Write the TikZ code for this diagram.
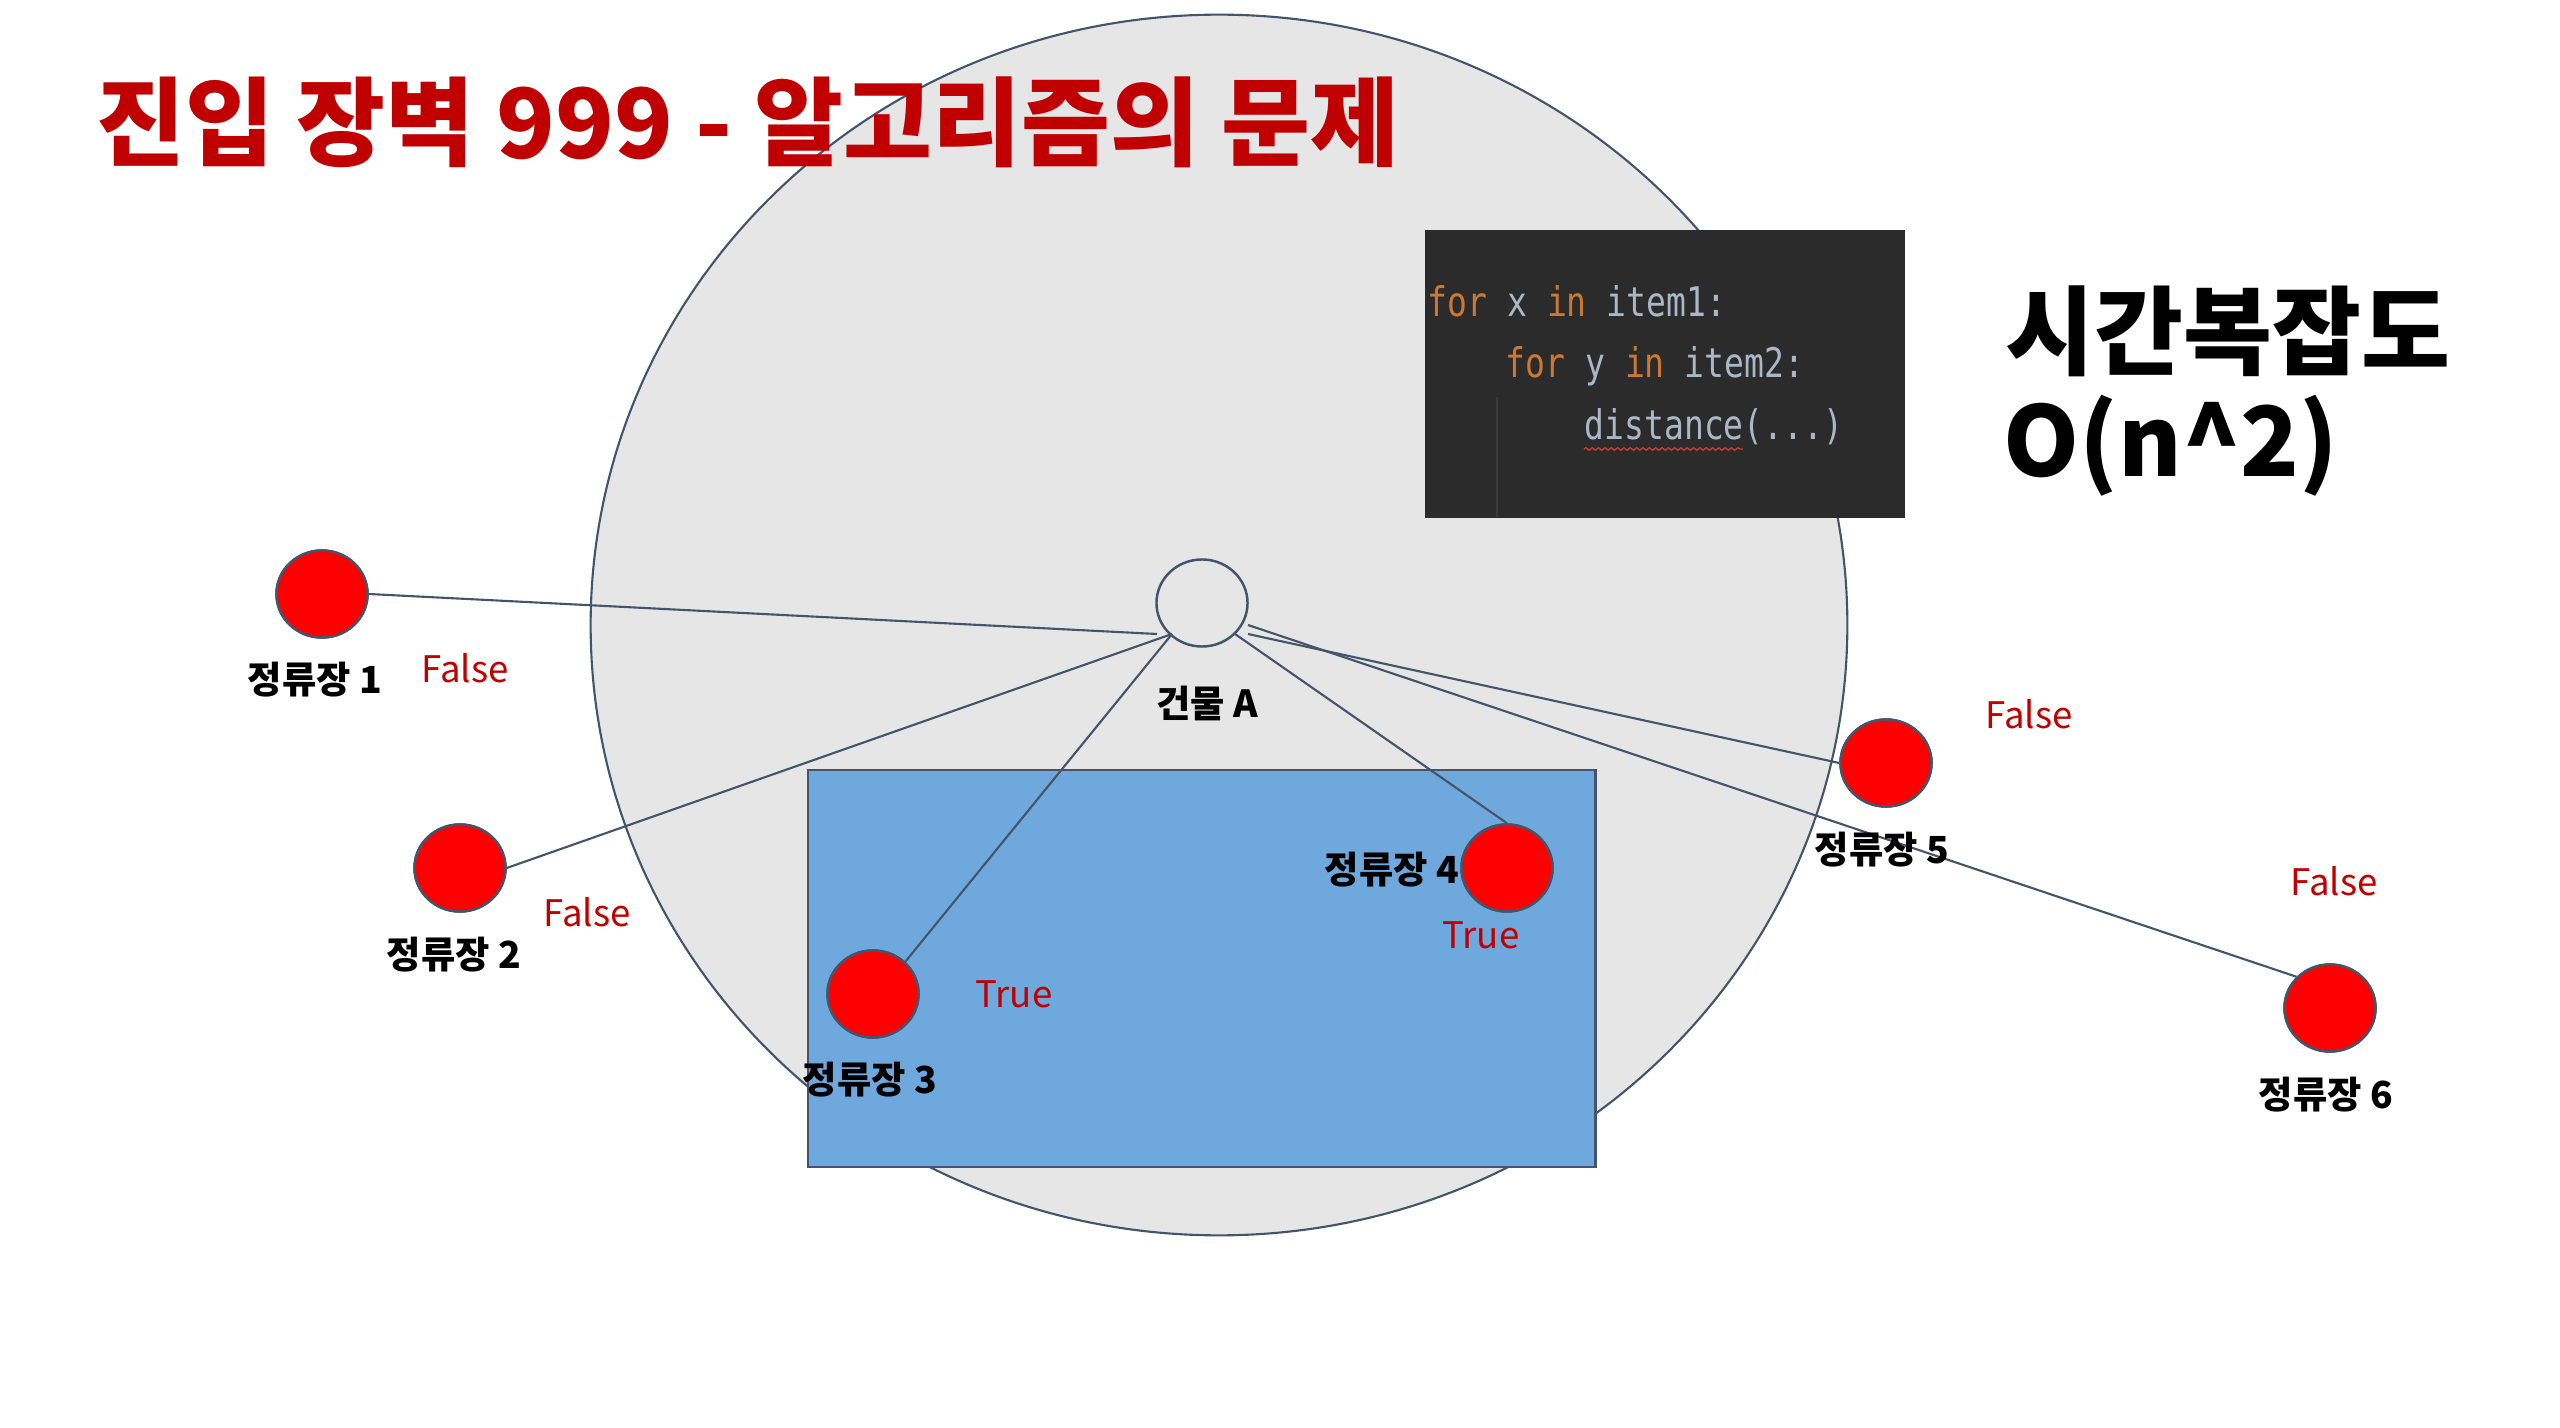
\documentclass[tikz,border=0pt]{standalone}
\usepackage{fontspec}
\setmainfont{Noto Sans CJK KR}
\newfontfamily\codefont[FakeStretch=0.81]{DejaVu Sans Mono}
\usetikzlibrary{shapes.geometric,decorations.pathmorphing}
\definecolor{edgec}{HTML}{44546A}
\definecolor{zonec}{HTML}{E6E6E6}
\definecolor{areac}{HTML}{6FA8DC}
\definecolor{stopred}{HTML}{FF0000}
\definecolor{labred}{HTML}{C00000}
\definecolor{codebg}{HTML}{2B2B2B}
\definecolor{kwc}{HTML}{CC7832}
\definecolor{idc}{HTML}{A9B7C6}
\definecolor{guidec}{HTML}{3B3B3B}
\definecolor{wavec}{HTML}{BC3F3C}
\newcommand\codekw[1]{\textcolor{kwc}{#1}}
\begin{document}
\begin{tikzpicture}[x=0.01cm,y=-0.01cm,
  stopnode/.style={ellipse,draw=edgec,fill=stopred,line width=0.7pt,minimum width=0.91cm,minimum height=0.87cm,inner sep=0pt},
  bldnode/.style={ellipse,draw=edgec,line width=0.7pt,minimum width=0.91cm,minimum height=0.87cm,inner sep=0pt},
  stoplabel/.style={inner sep=0pt,text=black,font=\bfseries\fontsize{10.6}{12}\selectfont},
  result/.style={inner sep=0pt,text=labred,font=\fontsize{10.4}{12}\selectfont},
  link/.style={draw=edgec,line width=0.6pt},
  codeline/.style={anchor=base west,inner sep=0pt,text=idc,font=\codefont\fontsize{11.6}{13}\selectfont}]
\useasboundingbox (0,0) rectangle (2560,1428);
\fill[white] (0,0) rectangle (2560,1428);
% zone
\node[ellipse,draw=edgec,fill=zonec,line width=0.6pt,minimum width=12.56cm,minimum height=12.2cm,inner sep=0pt] (zone) at (1219,625) {};
% area rectangle
\node[draw=edgec,fill=areac,line width=0.6pt,minimum width=7.87cm,minimum height=3.97cm,inner sep=0pt,anchor=north west] (area) at (807,769) {};
% code box
\node[fill=codebg,minimum width=4.80cm,minimum height=2.88cm,inner sep=0pt,anchor=north west] (codebox) at (1424,229) {};
\draw[guidec,line width=0.6pt] (1497,397) -- (1497,517);
\node[codeline] (c1) at (1427,317) {\codekw{for} x \codekw{in} item1:};
\node[codeline] (c2) at (1505,378) {\codekw{for} y \codekw{in} item2:};
\node[codeline] (c3) at (1584,440) {distance(...)};
\draw[wavec,line width=0.4pt,decorate,decoration={snake,amplitude=0.35pt,segment length=1.8pt}] (1584,449) -- (1743,449);
% title and complexity
\node[anchor=west,inner sep=0pt,text=labred,font=\bfseries\fontsize{27.5}{32}\selectfont] (title) at (96,122) {진입 장벽 999 - 알고리즘의 문제};
\node[anchor=west,inner sep=0pt,font=\bfseries\fontsize{27.5}{32}\selectfont] (tc1) at (2005,331) {시간복잡도};
\node[anchor=west,inner sep=0pt,font=\bfseries\fontsize{27.5}{32}\selectfont] (tc2) at (2003,446) {O(n\^{}2)};
% nodes
\node[bldnode] (bA) at (1202,603) {};
\node[stopnode] (s1) at (322,594) {};
\node[stopnode] (s2) at (460,868) {};
\node[stopnode] (s3) at (873,994) {};
\node[stopnode] (s4) at (1507,868) {};
\node[stopnode] (s5) at (1886,763) {};
\node[stopnode] (s6) at (2330,1008) {};
% links
\path[link] (s1.east) -- ([shift={(-45,31)}]bA.center);
\path[link] (s2.east) -- ([shift={(-30,31)}]bA.center);
\path[link] (s3.45) -- ([shift={(-30,31)}]bA.center);
\path[link] ([shift={(33,31)}]bA.center) -- (s4.north);
\path[link] ([shift={(46,31)}]bA.center) -- (s5.west);
\path[link] ([shift={(46,22)}]bA.center) -- (s6.137);
% redraw stops on top of links
\node[stopnode] at (s1.center) {};
\node[stopnode] at (s2.center) {};
\node[stopnode] at (s3.center) {};
\node[stopnode] at (s4.center) {};
\node[stopnode] at (s5.center) {};
\node[stopnode] at (s6.center) {};
% labels
\node[stoplabel] (l1) at (315,680) {정류장 1};
\node[stoplabel] (l2) at (454,955) {정류장 2};
\node[stoplabel] (l3) at (870,1080) {정류장 3};
\node[stoplabel] (l4) at (1392,870) {정류장 4};
\node[stoplabel] (l5) at (1882,850) {정류장 5};
\node[stoplabel] (l6) at (2326,1095) {정류장 6};
\node[stoplabel] (lA) at (1207,703) {건물 A};
\node[result] (r1) at (465,668) {False};
\node[result] (r2) at (587,912) {False};
\node[result] (r3) at (1014,994) {True};
\node[result] (r4) at (1481,935) {True};
\node[result] (r5) at (2029,714) {False};
\node[result] (r6) at (2334,881) {False};
\end{tikzpicture}
\end{document}
